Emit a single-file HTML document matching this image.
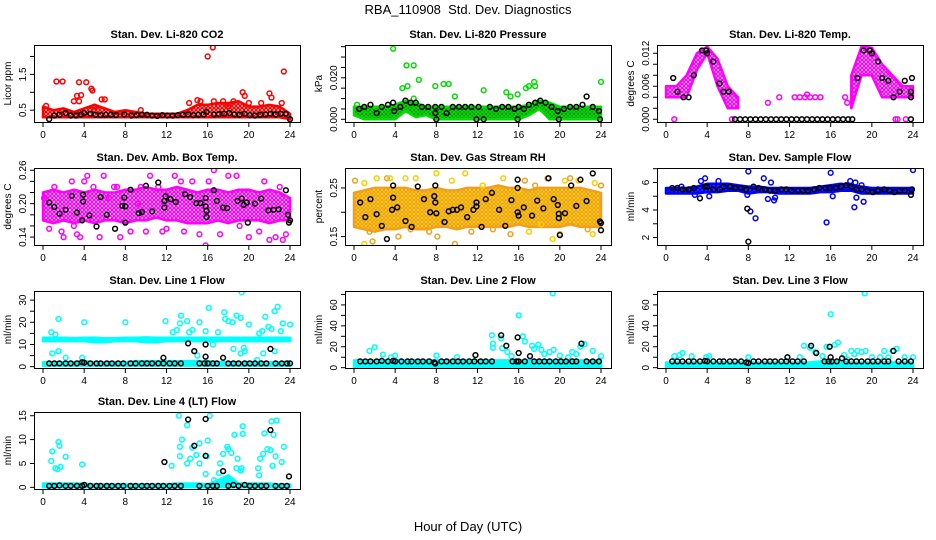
<!DOCTYPE html>
<html><head><meta charset="utf-8"><style>
html,body{margin:0;padding:0;background:#fff;}
svg{display:block;font-family:"Liberation Sans",Arial,sans-serif;}
</style></head><body>
<svg id="chart" width="936" height="540" viewBox="0 0 936 540">
<defs id="defs"></defs>
<text x="468" y="14" text-anchor="middle" font-size="13" xml:space="preserve">RBA_110908  Std. Dev. Diagnostics</text>
<text x="468" y="531" text-anchor="middle" font-size="13">Hour of Day (UTC)</text>
</svg>
<script>
// ---------- data (hours 0..24 for band arrays) ----------
const hours = [0,1,2,3,4,5,6,7,8,9,10,11,12,13,14,15,16,17,18,19,20,21,22,23,24];
const xTicks = [0,4,8,12,16,20,24];

const co2BandLo = [0.3,0.3,0.3,0.3,0.3,0.3,0.3,0.3,0.3,0.3,0.3,0.3,0.3,0.3,0.3,0.3,0.3,0.3,0.3,0.3,0.3,0.3,0.3,0.3,0.25];
const co2BandHi = [0.6,0.5,0.55,0.45,0.55,0.65,0.55,0.45,0.5,0.45,0.4,0.4,0.4,0.4,0.5,0.65,0.65,0.7,0.7,0.75,0.6,0.6,0.65,0.6,0.4];
const co2Pts = [[0.3,0.62],[1.3,1.3],[1.9,1.3],[3.5,1.28],[3.7,0.92],[3.3,0.9],[3.0,0.75],[3.5,0.75],[4.2,1.28],[4.7,1.1],[4.8,1.05],[5.7,0.8],[6.0,0.8],[14.2,0.7],[15.0,0.78],[15.3,0.75],[16.0,2.0],[16.5,2.25],[16.6,0.75],[17.5,0.75],[18.5,0.75],[19.4,1.0],[19.6,0.9],[22.0,0.97],[22.2,0.85],[23.2,0.7],[23.4,1.58],[21.2,0.7],[20.0,0.7],[5.0,0.6],[9.5,0.5],[18.0,0.6]];
const co2Blk = [[0.6,0.25],[1.1,0.35],[1.6,0.37],[2.2,0.42],[2.7,0.35],[3.2,0.35],[3.7,0.38],[4.0,0.42],[4.6,0.4],[5.1,0.37],[5.6,0.36],[6.1,0.37],[6.6,0.37],[7.1,0.36],[7.9,0.38],[8.6,0.35],[9.1,0.36],[9.6,0.38],[10.1,0.37],[10.6,0.35],[11.1,0.34],[11.6,0.36],[12.1,0.35],[12.6,0.35],[13.1,0.36],[13.6,0.37],[14.1,0.38],[14.6,0.36],[15.1,0.37],[15.6,0.38],[15.9,0.45],[16.6,0.38],[17.1,0.39],[17.6,0.4],[18.1,0.42],[18.6,0.38],[19.1,0.37],[19.6,0.4],[20.1,0.36],[20.6,0.35],[21.1,0.37],[21.6,0.38],[22.1,0.4],[22.6,0.38],[23.1,0.4],[23.6,0.4],[24.0,0.25]];

const presBandLo = [0.002,0,0,0,0,0.004,0.001,0.002,0,0,0,0,0,0,0,0,0,0.002,0.005,0,0,0,0,0,0];
const presBandHi = [0.006,0.006,0.006,0.006,0.007,0.009,0.008,0.006,0.006,0.006,0.006,0.006,0.006,0.006,0.006,0.006,0.006,0.007,0.009,0.008,0.006,0.006,0.006,0.006,0.006];
const presPts = [[3.8,0.034],[5.1,0.026],[5.8,0.026],[6.3,0.019],[4.7,0.015],[5.2,0.016],[7.9,0.016],[8.7,0.017],[9.2,0.017],[9.8,0.011],[12.6,0.014],[14.8,0.013],[15.2,0.011],[15.9,0.012],[16.7,0.015],[17.0,0.016],[17.5,0.018],[17.6,0.016],[24,0.018],[5.8,0.01],[0.3,0.007]];
const presBlk = [[0.5,0.005],[1.0,0.006],[1.6,0.007],[2.2,0.003],[2.7,0.006],[3.3,0.007],[3.8,0.008],[3.9,0.004],[4.5,0.006],[5.0,0.009],[5.5,0.008],[6.0,0.008],[6.6,0.006],[7.2,0.006],[7.9,0.006],[7.9,0.003],[8.0,0.0],[8.5,0.006],[9.0,0.003],[9.6,0.006],[10.2,0.006],[10.8,0.006],[11.4,0.006],[11.9,0.0],[12.1,0.006],[12.6,0.0],[13.2,0.006],[13.8,0.005],[14.4,0.006],[15.0,0.006],[15.6,0.005],[15.9,0.0],[16.0,0.006],[16.5,0.005],[17.0,0.007],[17.6,0.008],[18.1,0.009],[18.6,0.008],[19.2,0.006],[19.8,0.004],[19.9,0.0],[20.4,0.005],[21.0,0.006],[21.6,0.006],[22.2,0.007],[22.6,0.011],[23.2,0.006],[23.8,0.004],[23.9,0.0]];

const tempBandLo = [0.004,0.004,0.004,0.009,0.012,0.006,0.002,0.002,null,null,null,null,null,null,null,null,null,null,0.002,0.008,0.008,0.004,0.004,0.004,0.004];
const tempBandHi = [0.006,0.006,0.008,0.012,0.0132,0.011,0.006,0.004,null,null,null,null,null,null,null,null,null,null,0.008,0.0132,0.013,0.01,0.008,0.006,0.006];
const tempPts = [[0.8,0],[9.9,0.003],[11.0,0.004],[12.5,0.004],[13.0,0.004],[13.5,0.004],[13.7,0.0045],[14.0,0.004],[14.5,0.004],[15.0,0.004],[22.3,0],[22.5,0],[23.3,0],[6.4,0],[17.4,0.004],[17.6,0.003]];
const tempBlk = [[0.7,0.0075],[1.1,0.005],[1.7,0.004],[2.2,0.004],[2.7,0.008],[3.5,0.0125],[3.9,0.0125],[4.0,0.012],[4.6,0.0105],[5.2,0.0065],[5.6,0.005],[6.1,0.005],[6.7,0],[7.2,0],[7.7,0],[8.2,0],[8.7,0],[9.2,0],[9.7,0],[10.2,0],[10.7,0],[11.2,0],[11.7,0],[12.2,0],[12.7,0],[13.2,0],[13.7,0],[14.2,0],[14.7,0],[15.2,0],[15.7,0],[16.2,0],[16.7,0],[17.2,0],[17.7,0],[18.1,0],[18.6,0.0075],[19.2,0.0125],[19.8,0.0125],[20.0,0.012],[20.6,0.0105],[21.0,0.0075],[21.6,0.007],[22.1,0.004],[22.7,0.005],[23.2,0.007],[23.8,0.005],[23.8,0.004],[23.8,0],[23.9,0.0075]];

const ambBandLo = [0.17,0.165,0.17,0.165,0.17,0.165,0.17,0.17,0.165,0.17,0.17,0.175,0.17,0.17,0.165,0.165,0.165,0.17,0.165,0.17,0.17,0.17,0.165,0.17,0.17];
const ambBandHi = [0.22,0.225,0.22,0.225,0.22,0.225,0.22,0.22,0.225,0.225,0.23,0.225,0.225,0.23,0.225,0.22,0.225,0.225,0.22,0.225,0.225,0.22,0.225,0.22,0.21];
const ambPts = [[0.1,0.21],[0.6,0.155],[1.1,0.23],[1.8,0.15],[2.0,0.14],[2.8,0.24],[3.3,0.145],[3.6,0.14],[4.0,0.24],[4.3,0.25],[4.9,0.23],[5.5,0.14],[5.9,0.25],[6.4,0.21],[6.9,0.23],[7.2,0.23],[7.5,0.14],[8.5,0.15],[9.2,0.2],[10.0,0.15],[10.4,0.25],[11.2,0.23],[11.6,0.15],[12.8,0.25],[13.4,0.24],[13.7,0.15],[14.5,0.24],[15.2,0.145],[15.8,0.125],[16.1,0.24],[16.6,0.26],[17.2,0.145],[18.0,0.25],[18.8,0.25],[19.1,0.16],[20.0,0.14],[21.0,0.15],[21.5,0.24],[22.0,0.135],[22.6,0.14],[23.0,0.23],[23.3,0.135],[23.6,0.145],[12.0,0.155],[3.0,0.16],[9.5,0.23]];
const ambBlk = [[0.6,0.202],[1.1,0.194],[1.6,0.182],[2.2,0.189],[2.8,0.214],[3.3,0.184],[3.8,0.17],[3.9,0.204],[3.9,0.216],[4.5,0.179],[5.2,0.159],[5.6,0.212],[6.2,0.18],[7.0,0.155],[7.7,0.196],[7.9,0.211],[8.0,0.195],[8.0,0.166],[8.5,0.225],[9.3,0.183],[9.6,0.185],[10.0,0.232],[10.6,0.186],[11.2,0.238],[11.8,0.193],[11.8,0.205],[11.9,0.213],[12.4,0.208],[12.9,0.203],[13.8,0.217],[14.3,0.212],[14.9,0.201],[15.3,0.201],[15.8,0.21],[15.8,0.195],[15.9,0.187],[15.9,0.176],[16.6,0.224],[16.9,0.205],[17.5,0.193],[17.9,0.192],[18.9,0.205],[19.3,0.209],[19.5,0.198],[19.8,0.202],[19.9,0.166],[20.6,0.2],[21.2,0.209],[21.9,0.188],[22.4,0.189],[22.9,0.19],[23.6,0.224],[23.8,0.18],[24.0,0.17],[23.9,0.166]];

const rhBandLo = [0.17,0.165,0.16,0.165,0.165,0.17,0.165,0.165,0.17,0.17,0.165,0.17,0.17,0.17,0.17,0.17,0.175,0.17,0.17,0.17,0.17,0.175,0.17,0.17,0.17];
const rhBandHi = [0.24,0.245,0.25,0.25,0.25,0.25,0.245,0.245,0.25,0.245,0.245,0.25,0.25,0.25,0.255,0.25,0.25,0.245,0.25,0.25,0.25,0.25,0.25,0.245,0.24];
const rhPts = [[0.1,0.265],[1.0,0.26],[1.5,0.16],[1.0,0.135],[1.8,0.14],[2.2,0.27],[3.2,0.27],[3.5,0.27],[4.3,0.15],[5.0,0.27],[5.5,0.165],[6.0,0.27],[7.3,0.16],[8.0,0.28],[8.1,0.15],[9.5,0.265],[9.8,0.135],[10.8,0.28],[11.4,0.16],[12.5,0.255],[13.5,0.165],[14.5,0.27],[15.2,0.155],[16.0,0.245],[16.6,0.265],[17.0,0.16],[17.6,0.255],[18.2,0.175],[18.8,0.27],[19.3,0.145],[20.0,0.155],[20.5,0.265],[21.0,0.27],[21.8,0.265],[22.7,0.165],[23.4,0.26],[24.0,0.255],[23.2,0.155]];
const rhBlk = [[0.6,0.22],[1.1,0.19],[1.6,0.227],[2.2,0.196],[2.7,0.172],[3.2,0.145],[3.8,0.255],[3.8,0.23],[3.7,0.205],[4.2,0.21],[5.0,0.182],[5.6,0.17],[6.2,0.253],[6.8,0.227],[7.4,0.2],[7.8,0.233],[7.9,0.255],[7.9,0.22],[8.0,0.198],[8.8,0.18],[9.2,0.202],[9.6,0.205],[10.0,0.205],[10.4,0.21],[11.0,0.19],[11.6,0.205],[11.9,0.22],[11.9,0.212],[12.4,0.17],[12.8,0.227],[13.4,0.24],[14.1,0.205],[14.7,0.172],[15.3,0.225],[15.9,0.267],[15.9,0.25],[15.9,0.2],[16.0,0.193],[16.5,0.21],[17.3,0.193],[17.8,0.224],[18.4,0.208],[18.9,0.27],[19.4,0.227],[19.8,0.215],[19.9,0.197],[19.9,0.188],[20.0,0.153],[20.5,0.198],[21.1,0.255],[21.6,0.213],[22.0,0.267],[22.6,0.223],[23.2,0.28],[23.9,0.181],[24.0,0.178],[24.0,0.163]];

const flowBandLo = [5.2,5.2,5.2,5.2,5.3,5.3,5.4,5.4,5.2,5.3,5.3,5.2,5.2,5.2,5.2,5.3,5.3,5.4,5.4,5.2,5.2,5.2,5.2,5.2,5.2];
const flowBandHi = [5.6,5.6,5.6,5.7,5.9,5.9,5.9,5.8,5.7,5.7,5.6,5.6,5.6,5.6,5.6,5.7,5.8,5.9,5.8,5.7,5.6,5.6,5.6,5.6,5.6];
const flowPts = [[2.8,5.1],[3.4,6.1],[3.8,6.3],[4.2,5.0],[5.1,6.1],[7.9,5.1],[8.0,6.8],[8.2,3.9],[8.7,3.4],[9.5,6.3],[9.9,4.8],[10.2,6.0],[10.5,4.7],[10.6,4.9],[15.6,3.1],[16.0,6.7],[16.2,5.0],[17.9,6.1],[18.4,6.0],[18.5,4.9],[18.3,4.2],[19.0,5.8],[19.2,4.6],[20.6,5.5],[24.0,6.9],[1.5,5.7]];
const flowBlk = [[0.6,5.6],[1.1,5.6],[1.6,5.5],[2.2,5.5],[2.7,5.6],[3.3,4.85],[3.8,5.7],[4.0,5.7],[4.6,5.5],[5.2,5.5],[5.6,5.7],[6.2,5.7],[6.7,5.6],[7.3,5.6],[7.8,5.5],[7.9,4.1],[8.0,1.7],[8.5,5.7],[9.0,5.6],[9.6,5.5],[10.1,5.4],[10.6,5.4],[11.2,5.5],[11.7,5.5],[12.2,5.4],[12.8,5.4],[13.3,5.4],[13.8,5.4],[14.4,5.5],[14.9,5.6],[15.5,5.6],[15.9,5.6],[16.5,5.6],[17.0,5.7],[17.5,5.8],[18.0,5.7],[18.5,5.5],[19.0,5.5],[19.6,5.4],[20.1,5.3],[20.6,5.4],[21.2,5.5],[21.7,5.4],[22.2,5.3],[22.7,5.4],[23.2,5.4],[23.8,5.1],[23.9,5.5]];

const l1BandLo = [11.5,11.5,11.5,11.5,11.5,11.0,11.0,11.5,11.5,11.5,11.0,11.0,11.5,11.5,11.5,11.5,11.5,11.5,11.5,11.5,11.5,11.5,11.5,11.5,11.5];
const l1BandHi = [13,13,13,12.8,13,13,12.8,12.8,13,13,13.2,13,13,13,13,13,13,13,13,13,13,13,13,13,13];
const l1Lo2 = [0.5,0.5,0.5,0.5,0.5,0.5,0.5,0.5,0.5,0.5,0.5,0.5,0.5,0.5,0.5,0.5,0.5,0.5,0.5,0.5,0.5,0.5,0.5,0.5,0.5];
const l1Hi2 = [2,2,2,2,2.5,2,2,2,2,2.5,2.5,2.5,2.5,2.5,2.5,2.5,2.5,2,2,2,2,2,2,2,2];
const l1Pts = [[0.8,15.5],[1.2,14.5],[1.5,21.5],[0.9,6],[1.5,7],[2.2,4],[4.0,20],[3.8,4],[8.0,20],[11.9,20.5],[12.6,15.5],[13.0,16.5],[13.3,19.5],[13.4,23],[14.0,20.5],[14.2,15.5],[14.5,16.5],[15.2,20],[15.8,16],[16.1,26.5],[16.5,10],[17.0,15.5],[17.6,24.5],[17.7,21.5],[18.0,20.5],[18.4,20],[18.8,23],[19.2,6],[18.5,8],[19.3,33.5],[19.2,22],[19.5,8.5],[19.6,7],[20.0,19],[21.0,15],[21.3,16],[21.6,22.5],[21.9,18],[22.2,17],[22.5,25],[22.8,27],[22.5,7],[23.1,16],[23.3,19.5],[24.0,19],[20.8,3],[21.4,6],[14.7,7],[15.0,5]];
const l1Blk = [[0.6,1.5],[1.1,1.5],[1.6,1.5],[2.2,1.5],[2.7,1.5],[3.3,1.5],[3.8,2],[4.0,1.8],[4.6,1.5],[5.2,1.5],[5.6,1.5],[6.2,1.5],[6.7,1.5],[7.3,1.5],[7.8,1.5],[8.5,1.5],[9.0,1.5],[9.6,1.5],[10.1,1.5],[10.6,1.5],[11.2,1.5],[11.7,1.5],[11.7,4],[12.3,1.5],[12.8,1.5],[13.4,1.5],[14.1,10.5],[14.7,7],[15.2,1.5],[15.7,1.5],[15.8,10],[15.8,4.5],[16.0,1.5],[16.5,1.5],[16.9,1.5],[17.5,4],[18.0,1.5],[18.5,1.5],[19.0,1.5],[19.6,1.5],[20.1,1.5],[20.6,1.5],[21.2,1.5],[21.7,1.5],[22.1,8],[22.6,1.5],[23.2,1.5],[23.7,1.5],[24.0,1.5]];

const l2BandLo = [0,0,0,0,0,0,0,0,0,0,0,0,0,0,0,0,0,0,0,0,0,0,0,0,0];
const l2BandHi = [7,7,7,7,7,7,7,7,7,7,7,7,7,7,7,7,7,7,7,7,7,7,7,7,7];
const l2Pts = [[1.5,16],[2.0,19.5],[2.8,12.5],[3.6,10],[4.0,11.5],[8.0,11.5],[10.0,10],[13.4,31],[13.5,23],[13.5,19],[14.4,18.5],[14.3,28],[14.9,15],[15.3,11],[16.0,50],[16.4,30],[16.6,25],[17.3,21],[17.5,18],[17.9,22],[18.2,17],[18.5,13],[19.0,15],[19.3,71],[19.4,17],[20.0,11.5],[20.8,10],[21.2,15],[21.6,13],[22.0,20],[22.4,22.5],[23.2,16],[24.0,11]];
const l2Blk = [[0.6,6],[1.1,6],[1.6,6],[2.2,6],[2.7,6.5],[3.3,6],[3.8,6.5],[4.0,6],[4.6,6],[5.2,6],[5.6,6],[6.2,6],[6.7,6],[7.3,6],[7.8,5],[7.9,4],[8.5,6],[9.0,6],[9.6,6],[10.1,6],[10.6,6],[11.2,6],[11.7,6],[11.8,12],[12.3,6],[12.8,6],[13.4,6],[14.3,31],[14.8,21],[15.4,6],[15.8,6],[15.9,29],[16.0,14],[16.0,6],[16.6,6],[17.1,11],[17.5,6],[18.0,6],[18.5,6],[19.0,6],[19.6,6],[20.1,6],[20.6,6],[21.2,6],[21.6,6],[22.1,23],[22.6,6],[23.2,6],[23.8,6]];

const l3BandLo = [0,0,0,0,0,0,0,0,0,0,0,0,0,0,0,0,0,0,0,0,0,0,0,0,0];
const l3BandHi = [5,5,5,5,5,5,5,5,5,5,5,5,5,5,5,6,7,6,5,5,5,5,5,5,5];
const l3Pts = [[0.8,11],[1.3,12],[1.6,14],[2.5,11],[3.9,10],[4.2,11],[8.0,10],[11.8,10],[13.0,10],[13.4,21],[14.0,19],[14.5,15],[15.2,11],[15.6,20],[16.0,51],[16.4,22],[16.7,24],[17.3,12],[17.6,8],[18.0,16],[18.3,13],[18.6,16],[19.0,15],[19.3,71],[19.4,16],[20.0,10],[20.8,10],[21.2,16],[21.6,10],[22.0,16],[22.4,18],[23.2,10],[24.0,10]];
const l3Blk = [[0.6,6],[1.1,6],[1.6,6],[2.2,6],[2.7,6],[3.3,6],[3.8,6.5],[4.0,6],[4.6,6],[5.2,6],[5.6,6],[6.2,6],[6.7,6],[7.3,6],[7.8,5],[8.0,4.5],[8.5,6],[9.0,6],[9.6,6],[10.1,6],[10.6,6],[11.2,6],[11.7,6],[11.8,10],[12.3,6],[12.8,6],[13.4,6],[14.1,21],[14.6,14],[15.4,6],[15.8,6],[15.9,20],[16.0,10],[16.1,6],[16.6,6],[17.1,9],[17.5,6],[18.0,6],[18.5,6],[19.0,6],[19.6,6],[20.1,6],[20.6,6],[21.2,6],[21.6,6],[22.1,16],[22.6,6],[23.2,6],[23.8,6]];

const l4BandLo = [0,0,0,0,0,0,0,0,0,0,0,0,0,0,0,0,0,0,0,0,0,0,0,0,0];
const l4BandHi = [0.8,0.8,0.8,0.8,0.8,0.6,0.6,0.6,0.6,0.6,0.6,0.6,0.6,0.8,0.8,0.8,0.6,1.5,2.5,0.8,0.8,0.8,0.8,0.6,0.6];
const l4Pts = [[0.8,5.5],[0.9,7.5],[1.2,4],[1.5,9.5],[1.6,8.7],[1.4,3.8],[1.7,4.3],[2.2,6.4],[3.8,4.8],[12.5,4.5],[13.2,15],[13.3,8.5],[13.3,6.5],[13.5,10],[14.0,13],[14.0,5],[14.3,6],[14.5,8.3],[14.9,6.8],[15.2,9.2],[15.2,5],[15.8,2.8],[15.9,6.5],[16.0,9.8],[16.2,15],[16.6,1.5],[17.1,3],[17.2,5],[17.5,7],[17.9,8.5],[18.0,8],[18.3,7.2],[18.6,11],[18.8,4],[18.9,6],[19.2,3.5],[19.4,11.2],[19.4,12.8],[19.3,4],[20.9,4],[21.0,2.5],[21.1,6],[21.4,7],[21.5,11.3],[21.8,8],[22.1,7.8],[22.2,13.8],[22.4,11],[22.3,4.5],[22.7,14],[22.6,6.5],[23.2,5.3],[23.4,8.5]];
const l4Blk = [[0.6,0.3],[1.1,0.3],[1.6,0.4],[2.2,0.3],[2.7,0.3],[3.3,0.3],[3.8,0.3],[4.0,0.5],[4.6,0.3],[5.2,0.3],[5.6,0.3],[6.2,0.3],[6.7,0.3],[7.3,0.3],[7.8,0.3],[8.5,0.3],[9.0,0.3],[9.6,0.3],[10.1,0.3],[10.6,0.3],[11.2,0.3],[11.8,5.3],[11.7,0.3],[12.3,0.3],[12.8,0.3],[13.4,0.3],[14.1,14.2],[14.7,8.7],[15.2,0.3],[15.8,14.3],[15.8,6.6],[16.0,0.3],[16.5,0.3],[16.9,0.3],[17.5,3.4],[18.0,0.3],[18.5,0.5],[19.0,0.3],[19.6,0.5],[20.1,0.3],[20.6,0.3],[21.2,0.3],[21.7,0.3],[22.1,12],[22.6,0.3],[23.2,0.3],[23.7,0.3],[23.9,2.3]];

// ---------- rendering ----------
const NS = "http://www.w3.org/2000/svg";
const svg = document.getElementById("chart");
const defs = document.getElementById("defs");
function mk(tag, attrs, parent) {
  const e = document.createElementNS(NS, tag);
  for (const k in attrs) e.setAttribute(k, attrs[k]);
  (parent || svg).appendChild(e);
  return e;
}
function makePattern(id, c1, c2) {
  const p = mk("pattern", {id: id, width: 4, height: 4, patternUnits: "userSpaceOnUse"}, defs);
  mk("rect", {x: 0, y: 0, width: 4, height: 4, fill: c1}, p);
  mk("circle", {cx: 2, cy: 2, r: 0.9, fill: c2}, p);
  mk("circle", {cx: 0, cy: 0, r: 0.7, fill: c2}, p);
  mk("circle", {cx: 4, cy: 4, r: 0.7, fill: c2}, p);
  mk("circle", {cx: 4, cy: 0, r: 0.7, fill: c2}, p);
  mk("circle", {cx: 0, cy: 4, r: 0.7, fill: c2}, p);
}
const panels = [
  {key:"co2",L:34,T:45,title:"Stan. Dev. Li-820 CO2",ylab:"Licor ppm",ymin:0.17,ymax:2.32,ticks:[0.5,1,1.5,2],labels:[0.5,1.5],fmt:1,col:"#ff0000",dot:"#ffffff",bLo:co2BandLo,bHi:co2BandHi,pts:co2Pts,blk:co2Blk},
  {key:"pressure",L:345,T:45,title:"Stan. Dev. Li-820 Pressure",ylab:"kPa",ymin:-0.0013,ymax:0.0358,ticks:[0,0.005,0.01,0.015,0.02,0.025,0.03,0.035],labels:[0,0.02],fmt:3,col:"#00dd00",dot:"#005500",bLo:presBandLo,bHi:presBandHi,pts:presPts,blk:presBlk},
  {key:"li-temp",L:657,T:45,title:"Stan. Dev. Li-820 Temp.",ylab:"degrees C",ymin:-0.0005,ymax:0.0135,ticks:[0,0.002,0.004,0.006,0.008,0.01,0.012],labels:[0,0.006,0.012],fmt:3,col:"#ff00ff",dot:"#ffffff",bLo:tempBandLo,bHi:tempBandHi,pts:tempPts,blk:tempBlk},
  {key:"amb-temp",L:34,T:168,title:"Stan. Dev. Amb. Box Temp.",ylab:"degrees C",ymin:0.1258,ymax:0.264,ticks:[0.14,0.16,0.18,0.2,0.22,0.24,0.26],labels:[0.14,0.2,0.26],fmt:2,col:"#ff00ff",dot:"#ffffff",bLo:ambBandLo,bHi:ambBandHi,pts:ambPts,blk:ambBlk},
  {key:"rh",L:345,T:168,title:"Stan. Dev. Gas Stream RH",ylab:"percent",ymin:0.1327,ymax:0.291,ticks:[0.15,0.2,0.25],labels:[0.15,0.25],fmt:2,col:"#f0a020",dot:"#ffee00",col2:"#ffcc00",bLo:rhBandLo,bHi:rhBandHi,pts:rhPts,blk:rhBlk},
  {key:"sample-flow",L:657,T:168,title:"Stan. Dev. Sample Flow",ylab:"ml/min",ymin:1.46,ymax:7.05,ticks:[2,3,4,5,6,7],labels:[2,4,6],fmt:0,col:"#0000ff",dot:"#4444ff",bLo:flowBandLo,bHi:flowBandHi,pts:flowPts,blk:flowBlk},
  {key:"line1",L:34,T:291,title:"Stan. Dev. Line 1 Flow",ylab:"ml/min",ymin:-0.6,ymax:34.1,ticks:[0,5,10,15,20,25,30],labels:[0,10,20,30],fmt:0,col:"#00ffff",dot:"#00ffff",bLo:l1BandLo,bHi:l1BandHi,bLo2:l1Lo2,bHi2:l1Hi2,pts:l1Pts,blk:l1Blk},
  {key:"line2",L:345,T:291,title:"Stan. Dev. Line 2 Flow",ylab:"ml/min",ymin:-0.3,ymax:73.3,ticks:[0,10,20,30,40,50,60,70],labels:[0,20,40,60],fmt:0,col:"#00ffff",dot:"#00ffff",bLo:l2BandLo,bHi:l2BandHi,pts:l2Pts,blk:l2Blk},
  {key:"line3",L:657,T:291,title:"Stan. Dev. Line 3 Flow",ylab:"ml/min",ymin:-0.3,ymax:73.3,ticks:[0,10,20,30,40,50,60,70],labels:[0,20,40,60],fmt:0,col:"#00ffff",dot:"#00ffff",bLo:l3BandLo,bHi:l3BandHi,pts:l3Pts,blk:l3Blk},
  {key:"line4",L:34,T:412,title:"Stan. Dev. Line 4 (LT) Flow",ylab:"ml/min",ymin:-0.35,ymax:15.78,ticks:[0,5,10,15],labels:[0,5,10,15],fmt:0,col:"#00ffff",dot:"#00ffff",bLo:l4BandLo,bHi:l4BandHi,pts:l4Pts,blk:l4Blk}
];
const W = 266, H = 77;
panels.forEach(p => {
  makePattern("pat-" + p.key, p.col, p.dot);
  const g = mk("g", {});
  
  
  const xs = h => p.L + 9 + h * 247 / 24;
  const ys = v => p.T + H - (v - p.ymin) / (p.ymax - p.ymin) * H;
  const clip = mk("clipPath", {id: "clip-" + p.key}, g);
  mk("rect", {x: p.L, y: p.T, width: W, height: H}, clip);
  const plot = mk("g", {"clip-path": "url(#clip-" + p.key + ")"}, g);
  function band(lo, hi, name) {
    let seg = [];
    const segs = [];
    hours.forEach((h, i) => {
      if (lo[i] == null || hi[i] == null) { if (seg.length) segs.push(seg); seg = []; }
      else seg.push(i);
    });
    if (seg.length) segs.push(seg);
    segs.forEach(s => {
      const top = s.map(i => xs(hours[i]).toFixed(1) + "," + ys(hi[i]).toFixed(1));
      const bot = s.slice().reverse().map(i => xs(hours[i]).toFixed(1) + "," + ys(lo[i]).toFixed(1));
      const poly = mk("polygon", {points: top.concat(bot).join(" "), fill: "url(#pat-" + p.key + ")", stroke: p.col, "stroke-width": 2.5, "stroke-linejoin": "round"}, plot);
      
      
    });
  }
  band(p.bLo, p.bHi, p.key + "-band");
  if (p.bLo2) band(p.bLo2, p.bHi2, p.key + "-low-band");
  p.pts.forEach((d, i) => {
    const c = mk("circle", {cx: xs(d[0]), cy: ys(d[1]), r: 2.4, fill: "none", stroke: (p.col2 && i % 2) ? p.col2 : p.col, "stroke-width": 1.5}, plot);
    
    
  });
  p.blk.forEach(d => {
    const c = mk("circle", {cx: xs(d[0]), cy: ys(d[1]), r: 2.4, fill: "none", stroke: "#000", "stroke-width": 1.5}, plot);
    
    
  });
  const box = mk("rect", {x: p.L + 0.5, y: p.T + 0.5, width: W, height: H, fill: "none", stroke: "#000", "stroke-width": 1}, g);
  
  
  const tt = mk("text", {x: p.L + W / 2, y: p.T - 7, "text-anchor": "middle", "font-size": 11, "font-weight": "bold"}, g);
  tt.textContent = p.title;
  
  
  const xb = p.T + H;
  mk("line", {x1: xs(0), x2: xs(24), y1: xb + 0.5, y2: xb + 0.5, stroke: "#000"}, g);
  xTicks.forEach(t => {
    mk("line", {x1: xs(t), x2: xs(t), y1: xb, y2: xb + 5, stroke: "#000"}, g);
    const lt = mk("text", {x: xs(t), y: xb + 16, "text-anchor": "middle", "font-size": 10}, g);
    lt.textContent = t;
    
    
  });
  mk("line", {x1: p.L + 0.5, x2: p.L + 0.5, y1: ys(p.ticks[0]), y2: ys(p.ticks[p.ticks.length - 1]), stroke: "#000"}, g);
  p.ticks.forEach(t => {
    mk("line", {x1: p.L - 4, x2: p.L, y1: ys(t), y2: ys(t), stroke: "#000"}, g);
  });
  p.labels.forEach(t => {
    const yy = ys(t);
    const lt = mk("text", {x: p.L - 8, y: yy, "text-anchor": "middle", "font-size": 10, transform: "rotate(-90 " + (p.L - 8) + " " + yy + ")"}, g);
    lt.textContent = t.toFixed(p.fmt);
    
    
  });
  const cy = p.T + H / 2, cx = p.L - 23;
  const yl = mk("text", {x: cx, y: cy, "text-anchor": "middle", "font-size": 10, transform: "rotate(-90 " + cx + " " + cy + ")"}, g);
  yl.textContent = p.ylab;
  
  
});
</script>
</body></html>
